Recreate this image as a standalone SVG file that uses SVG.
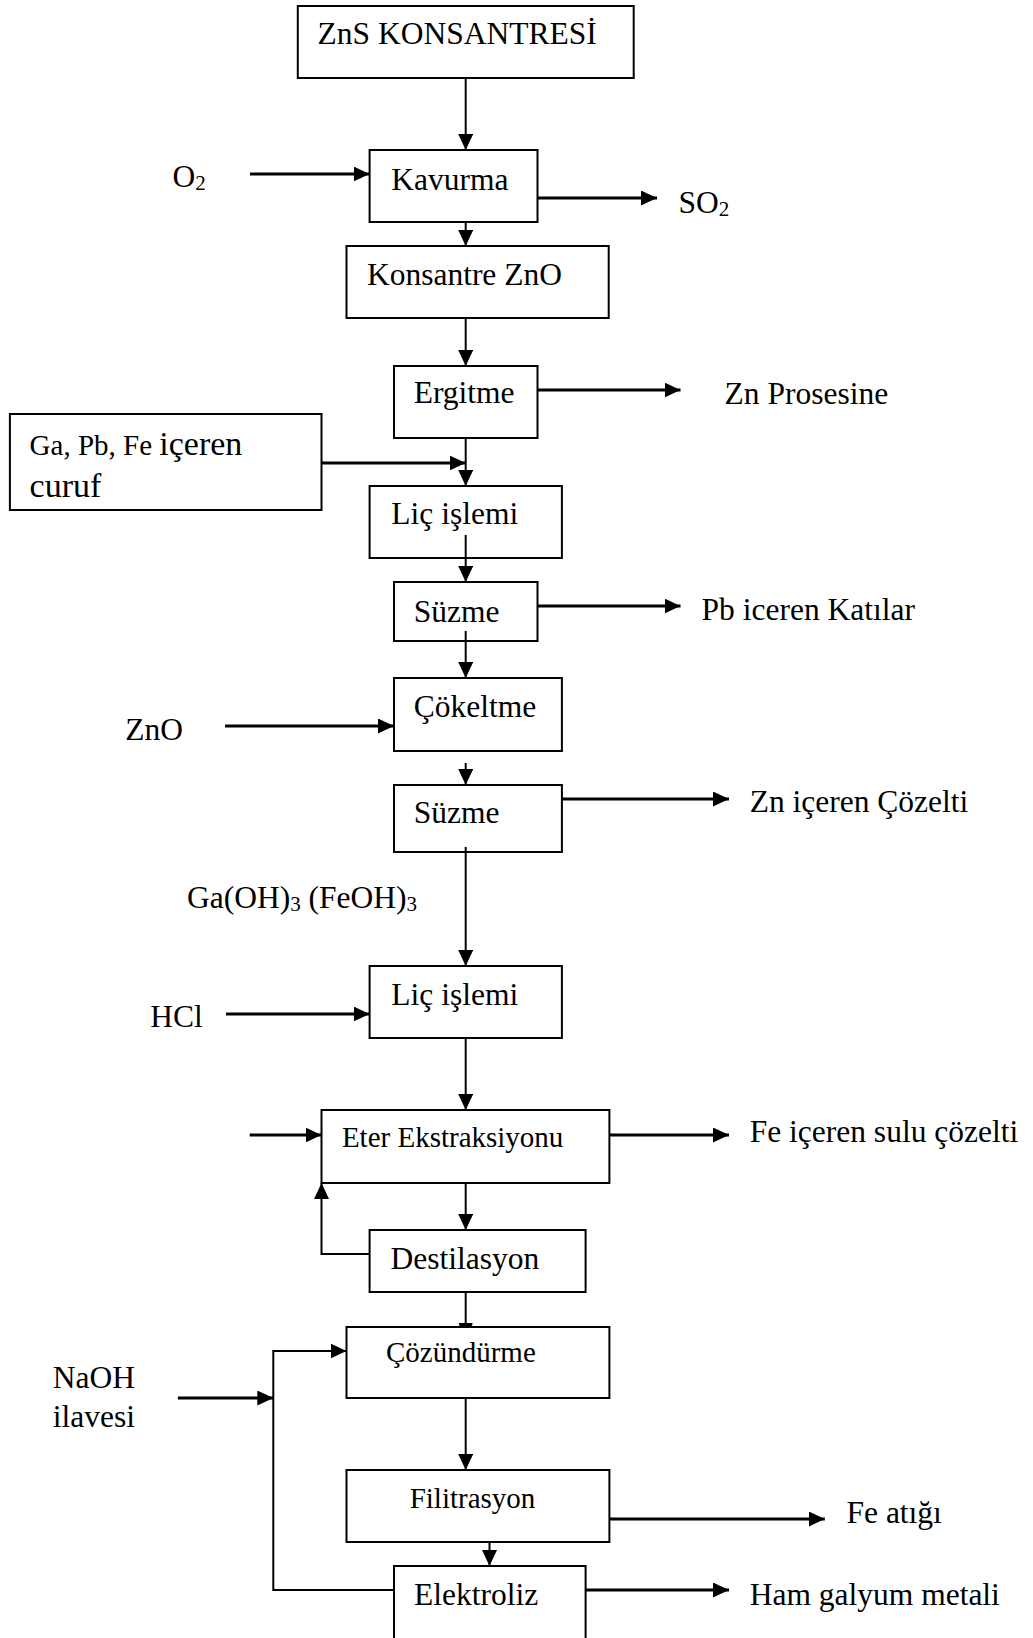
<svg xmlns="http://www.w3.org/2000/svg" width="1033" height="1638" viewBox="0 0 1033 1638">
  <defs>
    <style>
      .box { fill: none; stroke: #000; stroke-width: 2; }
      .lbl { font-family: "Liberation Serif", "Times New Roman", serif; font-size: 31.5px; fill: #000; }
      .sm { font-size: 29px; }
      .sub { font-size: 21px; }
      .flow { fill: none; stroke: #000; stroke-width: 2; }
      .thick { stroke-width: 3; }
    </style>
    <marker id="ah" viewBox="0 0 16 15" markerUnits="userSpaceOnUse" markerWidth="16" markerHeight="15" refX="16" refY="7.5" orient="auto">
      <path d="M0,0 L16,7.5 L0,15 Z" fill="#000"/>
    </marker>
  </defs>
  <rect width="1033" height="1638" fill="#fff"/>

  <!-- process flow connectors -->
  <g id="connectors">
    <path class="flow" d="M465.7,78 V150" marker-end="url(#ah)"/>
    <path class="flow thick" d="M250,174 H369.6" marker-end="url(#ah)"/>
    <path class="flow thick" d="M537.5,198 H657" marker-end="url(#ah)"/>
    <path class="flow" d="M465.7,222 V246" marker-end="url(#ah)"/>
    <path class="flow" d="M465.7,318 V366" marker-end="url(#ah)"/>
    <path class="flow thick" d="M537.5,390 H680.5" marker-end="url(#ah)"/>
    <path class="flow thick" d="M321.5,463 H465.7" marker-end="url(#ah)"/>
    <path class="flow" d="M465.7,438 V486" marker-end="url(#ah)"/>
    <path class="flow" d="M465.7,535 V582" marker-end="url(#ah)"/>
    <path class="flow thick" d="M537.5,606 H680.5" marker-end="url(#ah)"/>
    <path class="flow" d="M465.7,631 V678" marker-end="url(#ah)"/>
    <path class="flow thick" d="M225,726 H394" marker-end="url(#ah)"/>
    <path class="flow" d="M465.7,763 V785" marker-end="url(#ah)"/>
    <path class="flow thick" d="M561.9,799 H729" marker-end="url(#ah)"/>
    <path class="flow" d="M465.7,847 V966" marker-end="url(#ah)"/>
    <path class="flow thick" d="M226,1014 H369.6" marker-end="url(#ah)"/>
    <path class="flow" d="M465.7,1038 V1110" marker-end="url(#ah)"/>
    <path class="flow thick" d="M249.7,1135 H321.5" marker-end="url(#ah)"/>
    <path class="flow thick" d="M609.4,1135 H729" marker-end="url(#ah)"/>
    <path class="flow" d="M465.7,1183 V1230" marker-end="url(#ah)"/>
    <!-- ether recycle from distillation -->
    <path class="flow" d="M369.6,1254 H321.5 V1183" marker-end="url(#ah)"/>
    <path class="flow" d="M465.7,1292 V1327"/>
    <polygon points="458.7,1323 472.7,1323 471.5,1327 459.9,1327" fill="#000"/>
    <!-- electrolyte return loop -->
    <path class="flow" d="M394,1590 H273.3 V1351 H346.5" marker-end="url(#ah)"/>
    <path class="flow thick" d="M177.9,1398 H273.3" marker-end="url(#ah)"/>
    <path class="flow" d="M465.7,1398 V1470" marker-end="url(#ah)"/>
    <path class="flow thick" d="M609.4,1519 H824.8" marker-end="url(#ah)"/>
    <path class="flow" d="M489.5,1542 V1566" marker-end="url(#ah)"/>
    <path class="flow thick" d="M585.6,1590 H729" marker-end="url(#ah)"/>
  </g>

  <!-- process steps -->
  <g id="zns-konsantresi">
    <rect class="box" x="297.8" y="6" width="335.9" height="72"/>
    <text class="lbl" x="317.5" y="44">ZnS KONSANTRESİ</text>
  </g>
  <g id="kavurma">
    <rect class="box" x="369.6" y="150" width="167.9" height="72"/>
    <text class="lbl" x="391.3" y="190">Kavurma</text>
  </g>
  <g id="konsantre-zno">
    <rect class="box" x="346.5" y="246" width="262.2" height="72"/>
    <text class="lbl" x="366.9" y="285">Konsantre ZnO</text>
  </g>
  <g id="ergitme">
    <rect class="box" x="394" y="366" width="143.5" height="72"/>
    <text class="lbl" x="413.7" y="403">Ergitme</text>
  </g>
  <g id="curuf">
    <rect class="box" x="9.9" y="414" width="311.6" height="96"/>
    <text class="lbl" x="29.6" y="455"><tspan style="font-size:29px">Ga, Pb, Fe </tspan><tspan style="font-size:34px">içeren</tspan></text>
    <text class="lbl" x="29.6" y="497" style="font-size:34px">curuf</text>
  </g>
  <g id="lic-islemi-1">
    <rect class="box" x="369.6" y="486" width="192.3" height="72"/>
    <text class="lbl" x="391.3" y="524">Liç işlemi</text>
  </g>
  <g id="suzme-1">
    <rect class="box" x="394" y="582" width="143.5" height="59"/>
    <text class="lbl" x="413.7" y="622">Süzme</text>
  </g>
  <g id="cokeltme">
    <rect class="box" x="394" y="678" width="167.9" height="73"/>
    <text class="lbl" x="413.7" y="717">Çökeltme</text>
  </g>
  <g id="suzme-2">
    <rect class="box" x="394" y="785" width="167.9" height="67"/>
    <text class="lbl" x="413.7" y="823">Süzme</text>
  </g>
  <g id="lic-islemi-2">
    <rect class="box" x="369.6" y="966" width="192.3" height="72"/>
    <text class="lbl" x="391.3" y="1005">Liç işlemi</text>
  </g>
  <g id="eter-ekstraksiyonu">
    <rect class="box" x="321.5" y="1110" width="287.9" height="73"/>
    <text class="lbl sm" x="341.9" y="1147">Eter Ekstraksiyonu</text>
  </g>
  <g id="destilasyon">
    <rect class="box" x="369.6" y="1230" width="216" height="62"/>
    <text class="lbl" x="390.6" y="1269">Destilasyon</text>
  </g>
  <g id="cozundurme">
    <rect class="box" x="346.5" y="1327" width="262.9" height="71"/>
    <text class="lbl sm" x="386" y="1362">Çözündürme</text>
  </g>
  <g id="filitrasyon">
    <rect class="box" x="346.5" y="1470" width="262.9" height="72"/>
    <text class="lbl sm" x="409.7" y="1508">Filitrasyon</text>
  </g>
  <g id="elektroliz">
    <rect class="box" x="394" y="1566" width="191.6" height="80"/>
    <text class="lbl" x="414" y="1605">Elektroliz</text>
  </g>

  <!-- stream labels -->
  <g id="streams">
    <text class="lbl" x="172.6" y="187">O<tspan class="sub" dy="3">2</tspan></text>
    <text class="lbl" x="678.5" y="213">SO<tspan class="sub" dy="3">2</tspan></text>
    <text class="lbl" x="724.6" y="404">Zn Prosesine</text>
    <text class="lbl" x="701.6" y="620">Pb iceren Katılar</text>
    <text class="lbl" x="125.2" y="740">ZnO</text>
    <text class="lbl" x="749.7" y="812">Zn içeren Çözelti</text>
    <text class="lbl" x="187" y="908">Ga(OH)<tspan class="sub" dy="3">3</tspan><tspan dy="-3"> (FeOH)</tspan><tspan class="sub" dy="3">3</tspan></text>
    <text class="lbl" x="150.2" y="1027">HCl</text>
    <text class="lbl" x="749.7" y="1142">Fe içeren sulu çözelti</text>
    <text class="lbl" x="52.7" y="1388">NaOH</text>
    <text class="lbl" x="52.7" y="1427">ilavesi</text>
    <text class="lbl" x="846.5" y="1523">Fe atığı</text>
    <text class="lbl" x="749.7" y="1605">Ham galyum metali</text>
  </g>
</svg>
